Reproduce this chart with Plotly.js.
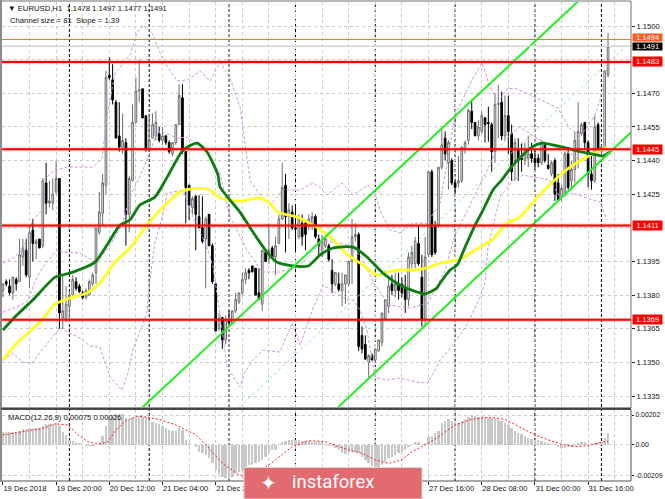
<!DOCTYPE html>
<html><head><meta charset="utf-8">
<script src="https://cdn.plot.ly/plotly-3.0.1.min.js"></script>
<style>html,body{margin:0;padding:0;background:#fff}</style></head>
<body><div id="chart" style="width:665px;height:499px"></div>
<script>
// Prices are in pips above 1.1000 (385 = 1.1385); bar index is the x value.
const open=[382,386,384,381,387,386,397,400,388,409,403,405,402,430,421,421,426,432,370,369,375,380,386,384,381,379,380,385,390,408,416.5,429,478,476,466,451,446,448,416,431,457,471,472,460,445,450,451,452,449,451,448,443,448,456,468,444,429,419,424,415,410,405,416,402,385,365,370,360,369,367.5,373,377,381,387,391,393,392,381,376,399,396,401,397,403,414,429,415,417,410,406,412,412,411,411,415,405,398,402,402,391,385,385,382,385,385,395,406,407,362,358,350,353,351,355,359,369,375,385,382,385,385,383,378,394,394,403,388,369,398,435,411,411,437,450,439,440,430,430,431,445,449,462,457,451,453,459,457,456,444,465,466,451,460,452,440,445,441,440,441,443,441,441,439,447,438,434,440,430,424,425,443,431,436,445,452,457,448,434,431,456,444,446,478];
const high=[385,387,387,388,388,405,405,405,411,414,405,405,432,439,431,432,440,432,389,384,382,389,388,385,382,383,387,390,410,426,434,480,486,483,467,466,461,450,433,465,477,485,472,460,460,461,462,455,455,451.5,449,448,456,474,474,444,429,424,424.6,424.6,424,415,416,403,385,372,370,371,373,373,381,381,390,392,392,393,392,392,400,400,412,402,406,416,439,434,421,420,420,416,416,413,416,417,416,407,407,406,403,396,390,390,390,389,395,414,412,408,366,362,353.6,354,356,360,372,378,388,389,390,390,388,389,399,402,406,411,398,406,435,436,413,437,454,453,449,441,431,442,446,449,463,467,457,458,462,459.5,464,457,470,473.7,470.7,469,469,456,450,450,448,448,451,448,445,443,449,448,443,440,441,434,429,444,446,440,453,466,457,457,449,443,460,457,447,480,497];
const low=[379,384,380,378,382,386,393,388,383,395,396,401,401,416,419,418,425,365,365,368,368,380,382,381,378,378,380,384,385,407,411,425,476,465,450,444,443,402,408,431,457,466,459,444,444,450,449,448,447,447,443,442,447,456,443,412,413.5,416,400,410,403,383,402,385,364,364,356,358,367,367,372,376,380,385,387,390,380,378,373,395,394,397,389,403,413.5,399,405,409,399,405,402,400,409,409,405,398,397,401,395,381,384,381.5,375,376,384,385,404,355,354,351,343,351,350,355,357,369,372,380,379,378,379,372,375,392,392,393,366,366,397,397,398,410,436,440,427,429,425,428,430,443,447,454,451,449,452,448,448.4,435,439,450,449,449,443,431,431,431,435,438,437,439,436,437,438,439,436,433,422,422,422,424,427,427,430,436.5,451,445,428,427,430,443.5,443,445,477];
const close=[385,385,381,388,385,398,401,389,408,403,404,401,431,421,422,425,432,372,373,376,380,387,383,381.5,379,382,386,389,410,417,430,477,477,467,450,446,449,416,432,457,471,471.5,459,445,449,456,457,449,451,448,444,448,456,469,444,428,420,423,416,410,404,414,402,386,364,369.6,360,369,367.5,373,378,381,387,390,390,390.5,380,378,400,395,400,397,402,414,428,415,418,410,409.5,414,406,407,414,415,406,402,404,405,396,385,390,382.5,385,389,395,406,407,357,356,351.5,353,351,356,360,372,378,384,382,385,382,381,378,397,399,404,394,369,397,435,398,399,437,447,443,448,430,428,431,446,448,462.4,457,451,455,460,456,456.5,444,465,465.5,451,460,453,435,448,440,440.5,445,443,441,439,439,448,440,436.5,439,425,422.5,427.6,443,428,436,449,453,456,448,434,431,455,444,446,480,491];

const greenX=[0,4.2,9,15.7,20.2,27.7,31.3,35.2,38.2,41.2,45.7,49.4,54.2,58.4,61.4,64.7,65.3,71.3,75.2,79.4,82.4,87.2,91.8,95.4,99.3,105.3,109.5,114.3,119.4,124.5,126.9,130.5,131.5,134.5,136.6,139,142,144.4,147.4,150,153.4,159.1,162.1,168.4,172.9,178.7,180.5,182.6];
const greenP=[364.4,371.1,377.8,388,389.8,394.7,402.3,411.2,413.5,420.2,423.7,432.6,444.7,447.8,443.8,433.5,428.2,417,408.1,399.2,394.7,393,393,397.9,401,401.4,397,389.8,384.5,381.4,380.5,383.1,385.4,391.2,393.4,401.4,411.2,417.9,426.9,431.3,438,446,447.8,446,444.2,442.5,442,443.8];
const yellowX=[0,4.2,11.2,15.7,20.2,25.3,29.2,33.7,38.2,43.3,48.2,53.3,58.4,62.3,65.3,71.3,77.3,80.3,82.7,88.4,93.3,98.4,103.8,108.3,112.5,115.5,119.4,123.3,127.5,131.5,137.5,143.5,147.1,151.6,155.5,160,166.6,170.6,175.7,181.7];
const yellowP=[351,358.6,368,376,378.7,380.9,385.4,394.7,401,411.2,419.3,426,427.7,426.9,423.3,421.9,423.3,421,417,414.8,411.2,405.9,397.9,393.4,388.9,390.3,391.2,391.2,392.1,394.3,396.1,401.4,404.6,412.1,414.8,422.4,432.2,437.1,441.6,446];
const upperX=[0,3,6,9,11.8,12,15.7,19.3,27.1,29.8,31.3,33.7,38.2,40.3,42.1,44.8,48.2,52.4,55.4,59.3,62.3,64.7,65.3,68.3,71.3,72.8,74.3,77.9,80.3,84.2,89.4,93.3,95.4,97.5,102,105.3,109.8,111.9,113.4,116.4,119.4,123.3,127.5,131.5,133.6,136,141.4,144.1,146.5,148.9,151.6,154,160,166.9,170.2,173.6,178.1,179.6,181.4];
const upperP=[394.3,396.5,400.1,413.5,417.9,431.3,435.8,437.1,437.1,441.1,459.4,479,487.1,496.9,500.4,496.9,484.8,475.5,475.9,479.9,475.5,482.6,483.9,476.8,463.9,447.8,431.3,423.3,420.2,426.9,426.9,430,427.7,424.6,430,424.6,429.1,425.5,417.9,409,407.7,412.1,412.1,421,440.2,460.3,476.8,483.5,472.8,466.1,471.9,472.3,468.3,463.4,454.9,450.5,460.3,467,480.4];
const midX=[0,4.2,7.2,10.3,12,16.3,18.1,23.2,28.3,32.2,35.8,38.2,42.1,44.2,46.3,48.2,52.4,55.4,60.8,65.3,68.3,73.4,77.9,83.3,89.4,96.3,103.5,107.4,111.9,116.4,122.4,127.8,133,136,140.5,144.1,148.6,152.5,155.5,160,164.5,169,173.6,178.1,181.7];
const midP=[372.4,374.7,376.9,388,392.5,400.1,399.2,398.7,394.3,402.3,411.2,423.7,435.8,443.4,452.7,452.7,450,450.5,444.7,434.4,414.8,400.1,390.3,390.3,393.4,404.5,402.3,397.9,384.5,375.6,374.2,376.4,391.2,406.8,420.2,431.3,444.7,451.4,455,450.5,446.9,444.7,440.2,440.2,444.7];
const lowerX=[0,3,6,9,11.2,17.2,23.2,26.2,29.2,32.2,35.8,37.6,39.1,43.3,44.2,45.7,48.2,49.4,54.2,57.2,61.4,63.2,64.7,67.4,71.3,72.8,75.2,78.2,83.3,87,89.4,93.3,96.3,103.5,105.3,107.4,109.5,111.9,115.5,119.4,124.5,127.8,131.5,135.3,139.9,143.5,145,145.9,149.5,153.4,156.4,160,164.5,167.5,171.5,175.7,179.6,181.7];
const lowerP=[351,354.1,350.1,349.7,354.6,365.3,360.8,357.3,356.8,343.4,337.6,345.2,355.5,372,386.7,403.2,416.6,425.5,426.9,414.8,401.4,392.5,377.8,347.9,339,345.7,351,355.5,354.6,367.5,357.7,374.2,384.5,377.8,377.8,373.3,364.4,343.4,342.1,343,341.2,340.8,351,357.7,367.5,379.1,385.4,401.4,423.7,431.3,433.5,432.6,431.3,423.7,425.5,423.3,421.5,413.5];
const channelUpperX=[42,173], channelUpperP=[330,511];
const channelLowerX=[100.8,189], channelLowerP=[330,452.7];
const channelMidX=[71,189], channelMidP=[330,493.3];

// MACD in units of 0.00001
const macdHist=[85,85,85,85,90,97,106,106,112,117,112,112,128,142,142,142,146,128,90,68,34,29,22,11,0,-4,-7,-7,0,7,61,128,180,202,209,209,209,180,169,180,191,196,191,180,169,157,151,142,128,112,101,97,97,112,101,34,11,0,-11,-45,-56,-68,-90,-124,-169,-196,-218,-225,-229,-218,-191,-180,-173,-146,-135,-135,-124,-112,-101,-79,-56,-34,-34,0,18,29,34,34,34,34,29,29,29,22,22,18,11,7,-7,-4,-22,-34,-56,-61,-45,-45,-45,-56,-79,-101,-124,-140,-146,-146,-135,-112,-90,-79,-68,-56,-45,-34,-11,0,18,18,0,11,56,61,79,97,146,164,173,164,157,151,164,173,191,196,196,191,196,191,180,180,173,169,164,151,135,112,97,79,74,61,45,38,34,34,29,22,11,7,0,-16,-22,-18,-11,-11,-7,11,22,18,7,7,16,18,22,50,83];
const signalX=[0,3,6.6,12,15.6,19.6,22.6,25.6,28.6,31.6,34,37,40.6,47,52,58,62,66,71,75,82,87,92,97,101,104,108,112,116,120,123,127,131,136,141,146,151,155,160,164,168,172,176,180,182];
const signalV=[68,79,90,112,142,135,68,22,7,22,101,164,196,173,135,68,-22,-124,-202,-214,-101,-11,29,22,-11,-34,-56,-101,-124,-101,-45,0,56,135,173,187,173,124,68,34,5,-11,-5,18,26];

const levelValues=[484,445,411,369];
const levelLabels=["1.1483","1.1445","1.1411","1.1369"];
const priceTicks=[1.1335,1.135,1.1365,1.138,1.1395,1.1425,1.144,1.1455,1.147,1.15];
const priceTickText=["1.1335","1.1350","1.1365","1.1380","1.1395","1.1425","1.1440","1.1455","1.1470","1.1500"];
const hiddenPriceGrid=[1.141,1.1485];
const macdTicks=[-0.00209,0,0.00202];
const macdTickText=["-0.00209","0.00","0.00202"];
const timeTicks=[0,16,32,48,64,80,96,112,128,144,160,176];
const timeTickText=["19 Dec 2018","19 Dec 20:00","20 Dec 12:00","21 Dec 04:00","21 Dec 20:00","","","","27 Dec 16:00","28 Dec 08:00","31 Dec 00:00","31 Dec 16:00"];
const gridBars=[8,24,40,56,72,88,104,120,136,152,168,184];
const daySeparators=[20,44,88,112,136,160,180];
const heavySeparator=[68];

const p=a=>a.map(v=>1.1+v/10000);
const m=a=>a.map(v=>v/100000);
const bars=open.map((_,i)=>i);
const W=665,H=499,L=2,R=34,T=2,B=18,PW=W-L-R,PH=H-T-B;
const px=x=>(x-L)/PW, py=y=>(H-B-y)/PH;
const line=(x,y,color,width,dash,shape)=>({type:'scatter',mode:'lines',x,y:p(y),xaxis:'x',yaxis:'y',hoverinfo:'skip',
  line:{color,width,dash:dash||'solid',shape:shape||'linear',smoothing:0.6},showlegend:false});
const band='#d093e6';
const data=[
 line(upperX,upperP,band,1,'3px,2px'),
 line(midX,midP,band,1,'3px,2px'),
 line(lowerX,lowerP,band,1,'3px,2px'),
 {type:'candlestick',x:bars,open:p(open),high:p(high),low:p(low),close:p(close),xaxis:'x',yaxis:'y',hoverinfo:'skip',showlegend:false,whiskerwidth:0,
  increasing:{line:{color:'#6e6e6e',width:1},fillcolor:'#f2f2f2'},
  decreasing:{line:{color:'#000000',width:1},fillcolor:'#000000'}},
 line(yellowX,yellowP,'#ffff22',2.8,'solid','spline'),
 line(greenX,greenP,'#0d7d12',2.8,'solid','spline'),
 line(channelUpperX,channelUpperP,'#22ee22',2),
 line(channelLowerX,channelLowerP,'#22ee22',2),
 line(channelMidX,channelMidP,'#8cf08c',1,'3px,3px'),
 {type:'bar',x:bars,y:m(macdHist),xaxis:'x',yaxis:'y2',marker:{color:'#c8c8c8',line:{width:0}},width:0.72,hoverinfo:'skip',showlegend:false},
 {type:'scatter',mode:'lines',x:signalX,y:m(signalV),xaxis:'x',yaxis:'y2',line:{color:'#ff1a1a',width:1,dash:'2px,2px'},hoverinfo:'skip',showlegend:false}
];
const gridc='#c9c9c9';
const shapes=[];
hiddenPriceGrid.forEach(v=>shapes.push({type:'line',xref:'paper',x0:0,x1:1,yref:'y',y0:v,y1:v,layer:'below',line:{color:gridc,width:1,dash:'3px,3px'}}));
daySeparators.forEach(v=>['y domain','y2 domain'].forEach(r=>shapes.push({type:'line',xref:'x',yref:r,x0:v,x1:v,y0:0,y1:1,layer:'below',line:{color:'#000',width:1,dash:'3px,2px'}})));
heavySeparator.forEach(v=>['y domain','y2 domain'].forEach(r=>shapes.push({type:'line',xref:'x',yref:r,x0:v,x1:v,y0:0,y1:1,layer:'below',line:{color:'#777',width:1.6,dash:'3px,2px'}})));
levelValues.forEach(v=>{
 shapes.push({type:'line',xref:'paper',x0:0,x1:1,yref:'y',y0:1.1+v/10000,y1:1.1+v/10000,layer:'above',line:{color:'rgba(255,0,0,0.18)',width:4}});
 shapes.push({type:'line',xref:'paper',x0:0,x1:1,yref:'y',y0:1.1+v/10000,y1:1.1+v/10000,layer:'above',line:{color:'#ff0000',width:2}});
});
shapes.push({type:'line',xref:'paper',x0:0,x1:1,yref:'y',y0:1.1494,y1:1.1494,layer:'above',line:{color:'#ff6a2b',width:1}});
shapes.push({type:'line',xref:'paper',x0:0,x1:1,yref:'y',y0:1.1491,y1:1.1491,layer:'above',line:{color:'#d5d5d5',width:1.5}});
// frames
const rect=(x0,y0,x1,y1,c,w)=>({type:'rect',xref:'paper',yref:'paper',x0:px(x0),x1:px(x1),y0:py(y1),y1:py(y0),layer:'above',line:{color:c,width:w},fillcolor:'rgba(0,0,0,0)'});
shapes.push(rect(1,1,631,408,'#707070',1));
shapes.push(rect(1,409.5,631,481,'#505050',1));
shapes.push({type:'line',xref:'paper',yref:'paper',x0:px(1),x1:px(1),y0:py(0),y1:py(482),layer:'above',line:{color:'#8c8c8c',width:2}});
shapes.push({type:'line',xref:'paper',yref:'paper',x0:px(1),x1:px(631),y0:py(408.6),y1:py(408.6),layer:'above',line:{color:'#444',width:1.5}});
// banner
shapes.push({type:'rect',xref:'paper',yref:'paper',x0:px(244),x1:px(422),y0:py(499),y1:py(467.5),layer:'above',line:{color:'#d9d9d9',width:1},fillcolor:'#e26b70'});
const anns=[];
const side=(text,y,bg,fg,h,ys)=>({xref:'paper',x:1,xanchor:'left',xshift:0.5,yshift:ys||0,yref:'y',y,yanchor:'middle',text,showarrow:false,bgcolor:bg,borderpad:0,width:29,height:h||9,align:'center',font:{family:'Liberation Sans',size:7.6,color:fg}});
levelValues.forEach((v,k)=>anns.push(side(levelLabels[k],1.1+v/10000,'#ff0000','#ffffff')));
anns.push(side('1.1494',1.1494,'#ff5a1e','#ffffff',6.5,2));
anns.push(side('1.1491',1.1491,'#000000','#ffffff',6.5,-0.5));
const note=(text,x,y,size)=>({xref:'paper',yref:'paper',x:px(x),y:py(y),xanchor:'left',yanchor:'middle',text,showarrow:false,font:{family:'Liberation Sans',size:size||7.7,color:'#111'}});
anns.push(note('▼ EURUSD,H1  1.1478 1.1497 1.1477 1.1491',6,9));
anns.push(note('Channel size = 81  Slope = 1.39',8,20));
anns.push(note('MACD(12,26,9) 0.00075 0.00026',6,417));
anns.push({xref:'paper',yref:'paper',x:px(290),y:py(482),xanchor:'left',yanchor:'middle',text:'instaforex',showarrow:false,font:{family:'Roboto',size:18.5,color:'#ffffff'}});
anns.push({xref:'paper',yref:'paper',x:px(268),y:py(483),xanchor:'center',yanchor:'middle',text:'✦',showarrow:false,font:{family:'DejaVu Sans',size:20,color:'#ffffff'}});
const tickfont={family:'Liberation Sans',size:7.6,color:'#111'};
const macdTickFont={family:'Liberation Sans',size:6.9,color:'#111'};
const layout={width:W,height:H,autosize:false,margin:{l:L,r:R,t:T,b:B,pad:0},paper_bgcolor:'#fff',plot_bgcolor:'#fff',showlegend:false,
 bargap:0,boxgap:0.28,dragmode:false,shapes,annotations:anns,
 xaxis:{type:'linear',anchor:'y2',range:[-0.27,188.9],rangeslider:{visible:false},tickmode:'array',tickvals:timeTicks,ticktext:timeTickText,tickangle:0,
  ticklabelposition:'outside right',ticks:'outside',ticklen:3,tickcolor:'#222',tickfont,showgrid:true,gridcolor:gridc,griddash:'3px,3px',gridwidth:1,zeroline:false,showline:false,
  minor:{tickmode:'array',tickvals:gridBars,showgrid:true,gridcolor:gridc,griddash:'3px,3px',gridwidth:1,ticks:''}},
 yaxis:{domain:[py(407),1],range:[1.13301,1.15107],side:'right',anchor:'x',tickmode:'array',tickvals:priceTicks,ticktext:priceTickText,ticks:'outside',ticklen:3,tickcolor:'#222',tickfont,showgrid:true,gridcolor:gridc,griddash:'3px,3px',gridwidth:1,zeroline:false,showline:false},
 yaxis2:{domain:[0,py(410)],range:[-0.00243,0.00236],side:'right',anchor:'x',tickmode:'array',tickvals:macdTicks,ticktext:macdTickText,ticks:'outside',ticklen:2,tickcolor:'#222',tickfont:macdTickFont,showgrid:true,gridcolor:gridc,griddash:'3px,3px',gridwidth:1,zeroline:false,showline:false}
};
Plotly.newPlot('chart',data,layout,{staticPlot:true,displayModeBar:false});
</script></body></html>
